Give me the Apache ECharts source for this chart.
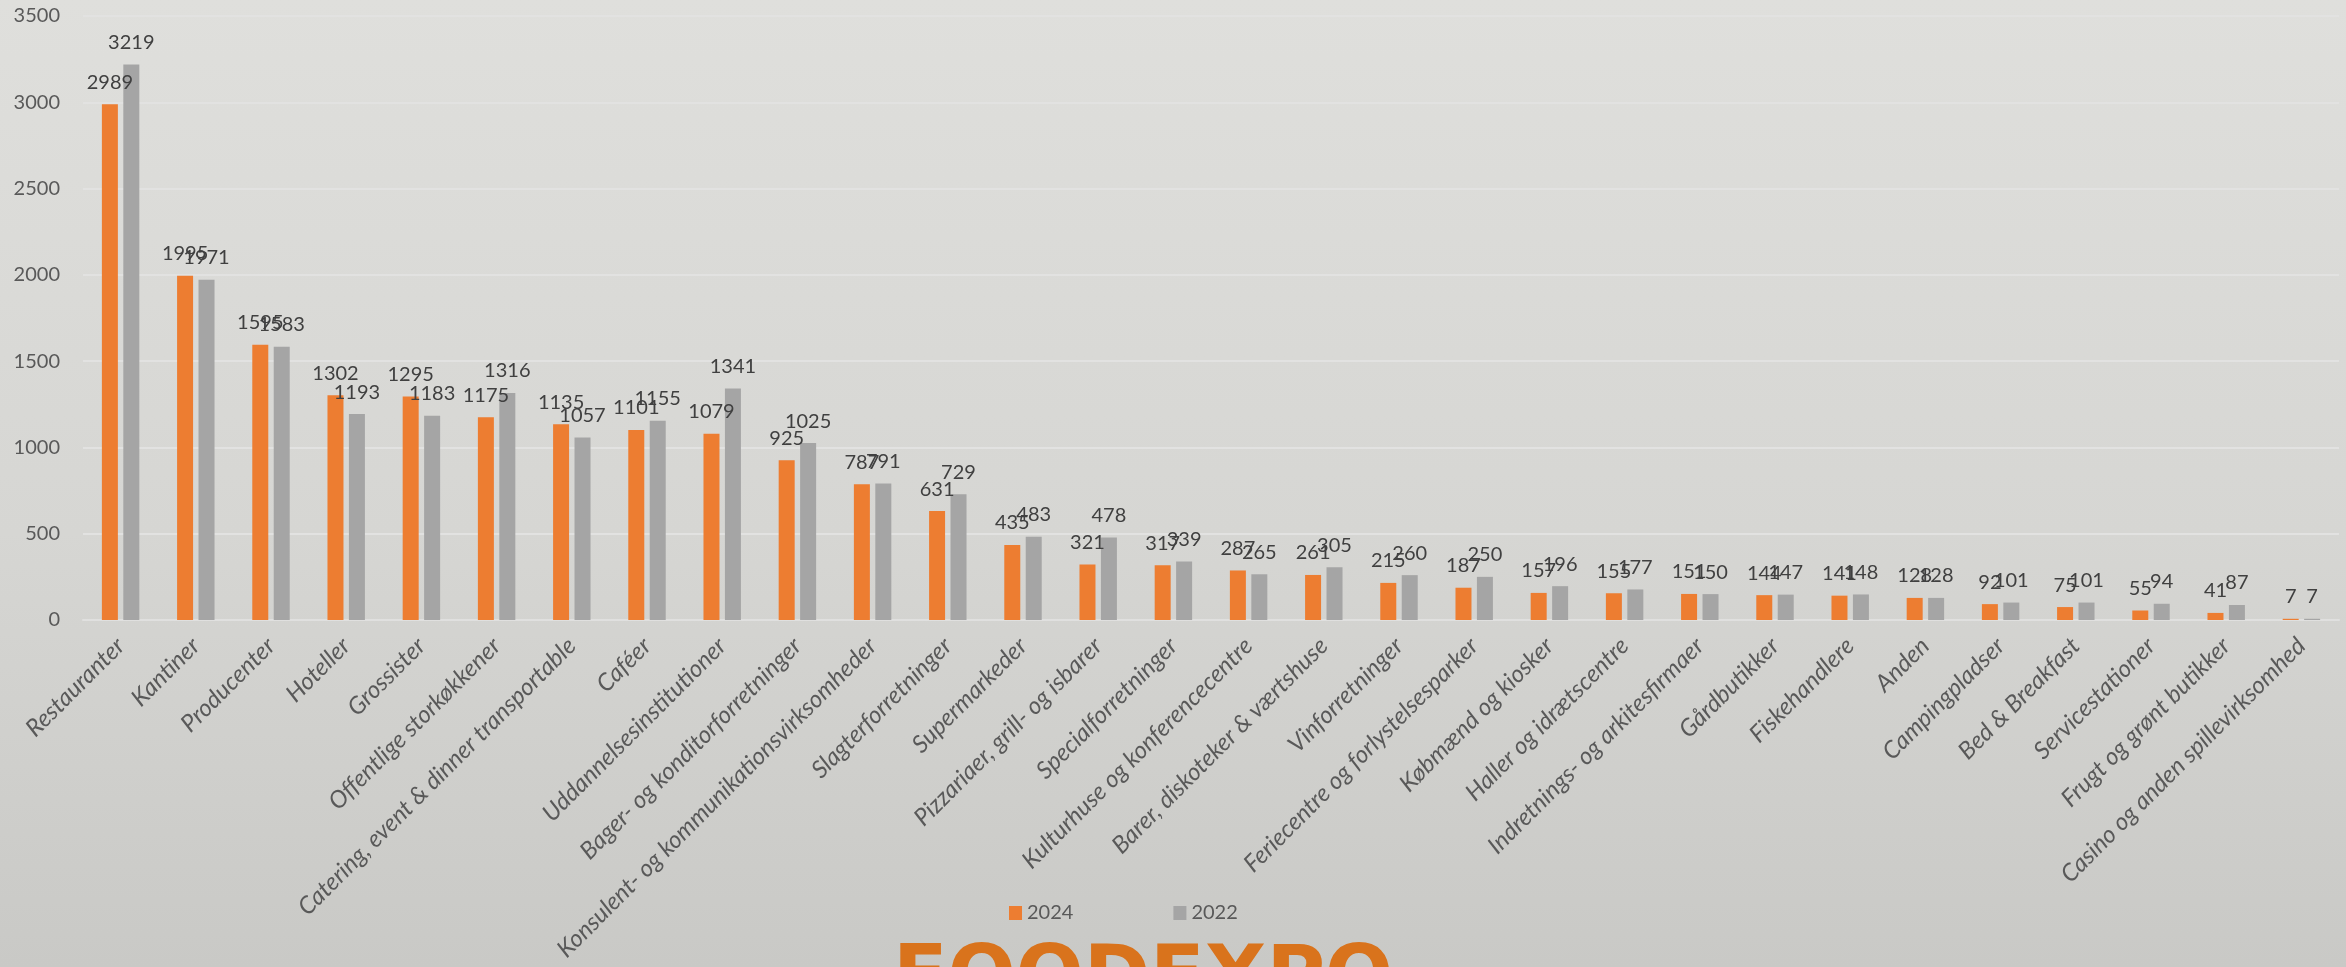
<!DOCTYPE html>
<html>
<head>
<meta charset="utf-8">
<script src="https://cdn.jsdelivr.net/npm/echarts@6/dist/echarts.min.js"></script>
<style>
    html, body {margin: 0; padding: 0;}
    #ET1 {width: 2346px; height: 967px;}
</style>
</head>
<body>
<div id="ET1"></div>
<script>
var categories = ['Restauranter', 'Kantiner', 'Producenter', 'Hoteller', 'Grossister', 'Offentlige storkøkkener',
    'Catering, event & dinner transportable', 'Caféer', 'Uddannelsesinstitutioner', 'Bager- og konditorforretninger',
    'Konsulent- og kommunikationsvirksomheder', 'Slagterforretninger', 'Supermarkeder', 'Pizzariaer, grill- og isbarer',
    'Specialforretninger', 'Kulturhuse og konferencecentre', 'Barer, diskoteker & værtshuse', 'Vinforretninger',
    'Feriecentre og forlystelsesparker', 'Købmænd og kiosker', 'Haller og idrætscentre', 'Indretnings- og arkitesfirmaer',
    'Gårdbutikker', 'Fiskehandlere', 'Anden', 'Campingpladser', 'Bed & Breakfast', 'Servicestationer',
    'Frugt og grønt butikker', 'Casino og anden spillevirksomhed'];
var values2024 = [2989, 1995, 1595, 1302, 1295, 1175, 1135, 1101, 1079, 925, 787, 631, 435, 321, 317, 287, 261, 215,
    187, 157, 155, 151, 144, 141, 128, 92, 75, 55, 41, 7];
var values2022 = [3219, 1971, 1583, 1193, 1183, 1316, 1057, 1155, 1341, 1025, 791, 729, 483, 478, 339, 265, 305, 260,
    250, 196, 177, 150, 147, 148, 128, 101, 101, 94, 87, 7];
var yMin = 0, yMax = 3500, yStep = 500;

~function () {
    var myChart = echarts.init(document.getElementById('ET1'));
    var txt = '#404040';
    var barLabel = {
        show: true,
        position: 'top',
        distance: 12,
        color: txt,
        fontFamily: 'Lato',
        fontSize: 20
    };
    var option = {
        animation: false,
        backgroundColor: {
            type: 'linear', x: 0, y: 0, x2: 0, y2: 1,
            colorStops: [
                {offset: 0, color: '#dfdfdc'},
                {offset: 0.55, color: '#d6d6d3'},
                {offset: 1, color: '#c9c9c6'}
            ]
        },
        grid: {left: 83, right: 7, top: 16, bottom: 347},
        legend: {
            data: ['2024', '2022'],
            left: 1004,
            top: 898,
            icon: 'rect',
            itemWidth: 13,
            itemHeight: 14,
            itemGap: 100,
            textStyle: {color: '#595959', fontFamily: 'Lato', fontSize: 20}
        },
        xAxis: [
            {
                type: 'category',
                data: categories,
                axisTick: {show: false},
                axisLine: {lineStyle: {color: '#e0e0df', width: 2}},
                axisLabel: {
                    interval: 0,
                    rotate: 45,
                    margin: 22,
                    color: '#595959',
                    fontFamily: 'Lato',
                    fontStyle: 'italic',
                    fontSize: 24
                }
            }
        ],
        yAxis: [
            {
                type: 'value',
                min: yMin,
                max: yMax,
                interval: yStep,
                axisLine: {show: false},
                axisTick: {show: false},
                axisLabel: {
                    margin: 23,
                    color: '#595959',
                    fontFamily: 'Lato',
                    fontSize: 20,
                    formatter: function (v) { return String(v); }
                },
                splitLine: {lineStyle: {color: '#e2e2e1', width: 2}}
            }
        ],
        graphic: [
            {
                // logo text at the bottom, cut by the edge
                type: 'text',
                left: 893,
                top: 941,
                style: {
                    text: 'FOODEXPO',
                    fill: '#d9731c',
                    font: '900 80px "DejaVu Sans"'
                }
            }
        ],
        series: [
            {
                name: '2024',
                type: 'bar',
                barWidth: 16,
                barGap: '34%',
                itemStyle: {color: '#ed7d31'},
                label: barLabel,
                data: values2024
            },
            {
                name: '2022',
                type: 'bar',
                barWidth: 16,
                itemStyle: {color: '#a5a5a5'},
                label: barLabel,
                data: values2022
            }
        ]
    };
    myChart.setOption(option);
}();
</script>
</body>
</html>
